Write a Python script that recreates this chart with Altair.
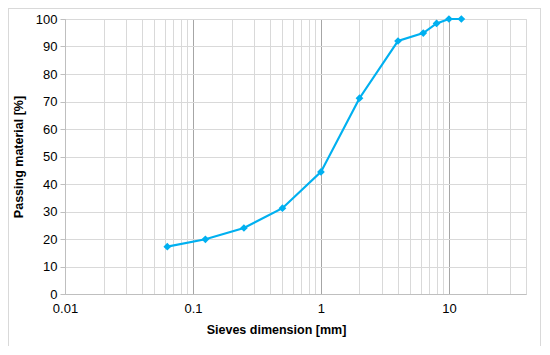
import altair as alt
import pandas as pd

sieve_mm = [0.063, 0.125, 0.25, 0.5, 1, 2, 4, 6.3, 8, 10, 12.5]
passing_pct = [17.2, 19.9, 24.0, 31.2, 44.4, 71.2, 92.0, 94.9, 98.4, 100, 100]

x_grid_values = [0.01, 0.02, 0.03, 0.04, 0.05, 0.06, 0.07, 0.08, 0.09,
                 0.1, 0.2, 0.3, 0.4, 0.5, 0.6, 0.7, 0.8, 0.9,
                 1, 2, 3, 4, 5, 6, 7, 8, 9,
                 10, 20, 30, 40]
x_major = [0.01, 0.1, 1, 10]
y_ticks = [0, 10, 20, 30, 40, 50, 60, 70, 80, 90, 100]

df = pd.DataFrame({"sieve": sieve_mm, "passing": passing_pct})

FONT = "Liberation Sans"
color = "#00B0F0"

major_test = " || ".join(f"datum.value == {v}" for v in x_major)
label_expr = f"({major_test}) ? format(datum.value, '~g') : ''"

x_enc = alt.X(
    "sieve:Q",
    scale=alt.Scale(type="log", domain=[0.01, 40], nice=False),
    axis=alt.Axis(
        title="Sieves dimension [mm]",
        values=x_grid_values,
        labelExpr=label_expr,
        grid=True,
        gridColor={"condition": {"test": major_test, "value": "#a6a6a6"}, "value": "#d9d9d9"},
        ticks=False,
        domain=True,
        domainColor="#bfbfbf",
        labelFont=FONT, labelFontSize=13, labelColor="#000000", labelPadding=8,
        titleFont=FONT, titleFontSize=12.5, titleFontWeight="bold", titleColor="#000000",
        titlePadding=8,
        titleX=211,
        labelFlush=False,
        labelOverlap=False,
    ),
)
y_enc = alt.Y(
    "passing:Q",
    scale=alt.Scale(domain=[0, 100], nice=False),
    axis=alt.Axis(
        title="Passing material [%]",
        values=y_ticks,
        grid=True,
        gridColor="#d9d9d9",
        ticks=True, tickColor="#bfbfbf", tickSize=5,
        domain=True, domainColor="#bfbfbf",
        labelFont=FONT, labelFontSize=13, labelColor="#000000", labelPadding=3,
        titleFont=FONT, titleFontSize=12.5, titleFontWeight="bold", titleColor="#000000",
        titlePadding=10,
    ),
)

line = alt.Chart(df).mark_line(
    color=color, strokeWidth=2.2,
    point=alt.OverlayMarkDef(shape="diamond", filled=True, color=color, size=60),
).encode(x=x_enc, y=y_enc)

frame = alt.Chart(df).mark_rect(
    fill=None, stroke="#d9d9d9", strokeWidth=1
).encode(
    x=alt.value(-56.5), x2=alt.value(475.5),
    y=alt.value(-10.5), y2=alt.value(327.5),
)

chart = alt.layer(line, frame).properties(
    width=461, height=275,
    autosize=alt.AutoSizeParams(type="none"),
    padding={"left": 57, "top": 11, "right": 16, "bottom": 52},
).configure_view(stroke="#d9d9d9").configure(background="white")

chart.save("out.html", embed_options={"renderer": "svg", "actions": False})
